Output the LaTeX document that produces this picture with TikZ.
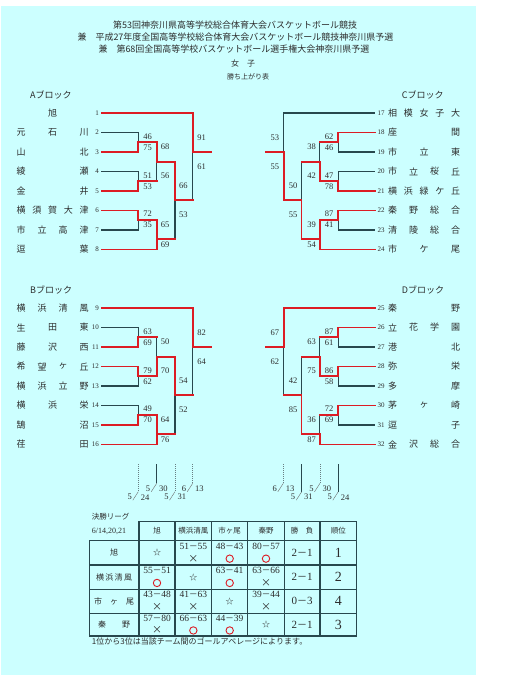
\documentclass[tikz,border=0pt]{standalone}
\usepackage{fontspec}
\setmainfont{Liberation Serif}
\newfontfamily\jp{Noto Sans CJK JP}
\usetikzlibrary{calc}
\definecolor{bg}{RGB}{204,255,255}
\definecolor{win}{RGB}{220,28,36}
\definecolor{lose}{RGB}{40,72,78}
\definecolor{ink}{RGB}{45,45,45}
\tikzset{
  W/.style={draw=win,line width=1.7pt,line cap=rect},
  L/.style={draw=lose,line width=1.1pt,line cap=rect},
  num/.style={font=\fontsize{7}{7}\selectfont,text=ink,inner sep=0pt},
  sc/.style={font=\fontsize{8.5}{8.5}\selectfont,text=ink,inner sep=0pt},
  nm/.style={font=\jp\fontsize{9}{9}\selectfont,text=ink,inner sep=0pt},
  hd/.style={font=\jp\fontsize{9}{9}\selectfont,text=ink,inner sep=0pt},
  dtxt/.style={font=\fontsize{8.5}{8.5}\selectfont,text=ink,inner sep=0pt},
  dsolid/.style={draw=lose,line width=1.1pt},
  ddash/.style={draw=lose!70,line width=0.6pt,dash pattern=on 1.2pt off 0.8pt},
  slashline/.style={draw=ink!70,line width=0.4pt},
  tbl/.style={draw=lose,line width=1.1pt},
  th/.style={font=\jp\fontsize{7.5}{7.5}\selectfont,text=ink,inner sep=0pt},
  rn/.style={font=\jp\fontsize{8}{8}\selectfont,text=ink,inner sep=0pt},
  tsc/.style={font=\fontsize{9.5}{9.5}\selectfont,text=ink,inner sep=0pt},
  mk/.style={font=\jp\fontsize{10}{10}\selectfont,text=ink,inner sep=0pt},
  rk/.style={font=\fontsize{14}{14}\selectfont,text=ink,inner sep=0pt},
  wl/.style={font=\fontsize{11}{11}\selectfont,text=ink,inner sep=0pt},
  star/.style={font=\jp\fontsize{8}{8}\selectfont,text=ink,inner sep=0pt},
}
\def\SX{{147.5,147.5,147.5,147.5,147.5,147.5,165,165,165,165,183.3,183.3,201.7,201.7}}
\def\SY{{24,34.5,63,73.5,100.5,112,33.7,62.7,112,132,73,102,24.3,53.7}}
\newcommand\mkblock[3]{%
\begin{scope}[#2]
\foreach \i in {1,...,8}{\coordinate (#1s\i) at (101.7,{(\i-1)*19.5});}
\foreach \i in {2,...,7}{\coordinate (#1r\i) at (138.3,{(\i-1)*19.5});}
\coordinate (#1a1) at (138.3,29.25);
\coordinate (#1a2) at (138.3,68.25);
\coordinate (#1a3) at (138.3,107.25);
\coordinate (#1bt1) at (156.7,29.25);
\coordinate (#1bb1) at (156.7,68.25);
\coordinate (#1bo1) at (156.7,48.75);
\coordinate (#1bt2) at (156.7,107.25);
\coordinate (#1bb2) at (156.7,136.5);
\coordinate (#1bo2) at (156.7,126);
\coordinate (#1ct) at (175,48.75);
\coordinate (#1cb) at (175,126);
\coordinate (#1co) at (175,87);
\coordinate (#1dt) at (192.7,0);
\coordinate (#1db) at (192.7,87);
\coordinate (#1do) at (192.7,39);
\coordinate (#1e) at (211,39);
\foreach \v [count=\k from 0] in {#3}{%
  \pgfmathsetmacro\xx{\SX[\k]}\pgfmathsetmacro\yy{\SY[\k]}%
  \node[sc] (#1sc\k) at (\xx,\yy) {\v};}
\end{scope}}
\newcommand\segs[3]{\foreach \a/\b in {#3}{\draw[#2] (#1\a) -- (#1\b);}}
\newcommand\tchars[6]{%
 \ifnum#4=1 \node[nm] (t#6-1) at ({(#1+#2)/2},#3) {#5};%
 \else\foreach \c [count=\k from 0] in {#5}{\node[nm] (t#6-\k) at ({#1+\k*(#2-#1)/(#4-1)},#3) {\c};}\fi}
\newcommand\tnameL[4]{%
 \node[num,anchor=east] (n#2) at (99,#1) {#2};
 \tchars{21}{84}{#1}{#3}{#4}{#2}}
\newcommand\tnameR[4]{%
 \node[num,anchor=west] (n#2) at (377.5,#1) {#2};
 \tchars{392.5}{455.5}{#1}{#3}{#4}{#2}}
\newcommand\dmark[6]{%
 \coordinate (dT#6) at (#1,464);
 \coordinate (dB#6) at (#1,#2);
 \draw[#3] (dT#6) -- (dB#6);
 \draw[slashline] (dB#6) -- ++(-5.5,8.5);
 \node[dtxt,anchor=east] (dA#6) at ({#1-6.3},{#2+5.5}) {#4};
 \node[dtxt,anchor=west] (dC#6) at ({#1+2.3},{#2+5.5}) {#5};}
\newcommand\jdash{{\jp\fontsize{8.5}{8.5}\selectfont －}}
\newcommand\cel[6]{%
 \node[tsc] (c#6) at (#1,{#2-6.5}) {#3\jdash#4};
 \ifx o#5\draw[win,line width=0.9pt] (#1,{#2+5.8}) circle[radius=3.7pt];
 \else\node[mk] (m#6) at (#1,{#2+5.8}) {×};\fi}
\begin{document}
\begin{tikzpicture}[x=1pt,y=-1pt]
\useasboundingbox (0,0) rectangle (525,680);
\fill[bg] (1,6) rectangle (476,675);
% header
\node[hd,anchor=west] (h1) at (113,25) {第53回神奈川県高等学校総合体育大会バスケットボール競技};
\node[hd,anchor=west] (h2) at (77.3,37) {兼　平成27年度全国高等学校総合体育大会バスケットボール競技神奈川県予選};
\node[hd,anchor=west] (h3) at (98.3,49) {兼　第68回全国高等学校バスケットボール選手権大会神奈川県予選};
\node[font=\jp\fontsize{8}{8}\selectfont,text=ink,inner sep=0pt] (h4) at (243,63) {女　子};
\node[font=\jp\fontsize{7}{7}\selectfont,text=ink,inner sep=0pt] (h5) at (248,77) {勝ち上がり表};
% block titles
\node[hd,anchor=west] (ta) at (30,95) {Aブロック};
\node[hd,anchor=west] (tb) at (30,290) {Bブロック};
\node[hd,anchor=west] (tc) at (401.7,95) {Cブロック};
\node[hd,anchor=west] (td) at (401.7,290) {Dブロック};
% blocks
\mkblock{A}{shift={(0,113)}}{46,75,51,53,72,35,68,56,65,69,66,53,91,61}
\mkblock{B}{shift={(0,308)}}{63,69,79,62,49,70,50,70,64,76,54,52,82,64}
\mkblock{C}{shift={(476.5,113)},xscale=-1}{62,46,47,78,87,41,38,42,39,54,50,55,53,55}
\mkblock{D}{shift={(476.5,308)},xscale=-1}{87,61,86,58,72,69,63,75,36,87,42,85,67,62}
\segs{A}{L}{s2/r2,s4/r4,s7/r7,r2/a1,r4/a2,r7/a3,bb1/bo1,cb/co,db/do}
\segs{A}{W}{s1/dt,s3/r3,s5/r5,s6/r6,s8/bb2,r3/a1,r5/a2,r6/a3,a1/bt1,a2/bb1,a3/bt2,bt1/bo1,bt2/bo2,bb2/bo2,bo1/ct,bo2/cb,ct/co,co/db,dt/do,do/e}
\segs{B}{L}{s2/r2,s5/r5,s6/r6,r2/a1,r5/a2,r6/a3,bt1/bo1,cb/co,db/do}
\segs{B}{W}{s1/dt,s3/r3,s4/r4,s7/r7,s8/bb2,r3/a1,r4/a2,r7/a3,a1/bt1,a2/bb1,a3/bt2,bb1/bo1,bt2/bo2,bb2/bo2,bo1/ct,bo2/cb,ct/co,co/db,dt/do,do/e}
\segs{C}{L}{s1/dt,s3/r3,s4/r4,s7/r7,r3/a1,r4/a2,r7/a3,bt1/bo1,ct/co,dt/do}
\segs{C}{W}{s2/r2,s5/r5,s6/r6,s8/bb2,r2/a1,r5/a2,r6/a3,a1/bt1,a2/bb1,a3/bt2,bb1/bo1,bt2/bo2,bb2/bo2,bo1/ct,bo2/cb,cb/co,co/db,db/do,do/e}
\segs{D}{L}{s3/r3,s5/r5,s7/r7,r3/a1,r5/a2,r7/a3,bt1/bo1,ct/co,db/do,bt2/bo2}
\segs{D}{W}{s1/dt,s2/r2,s4/r4,s6/r6,s8/bb2,r2/a1,r4/a2,r6/a3,a1/bt1,a2/bb1,a3/bt2,bb1/bo1,bb2/bo2,bo1/ct,bo2/cb,cb/co,co/db,dt/do,do/e}
% team names
\tnameL{113}{1}{1}{旭}
\tnameL{132.5}{2}{3}{元,石,川}
\tnameL{152}{3}{2}{山,北}
\tnameL{171.5}{4}{2}{綾,瀬}
\tnameL{191}{5}{2}{金,井}
\tnameL{210.5}{6}{5}{横,須,賀,大,津}
\tnameL{230}{7}{4}{市,立,高,津}
\tnameL{249.5}{8}{2}{逗,葉}
\tnameL{308}{9}{4}{横,浜,清,風}
\tnameL{327.5}{10}{3}{生,田,東}
\tnameL{347}{11}{3}{藤,沢,西}
\tnameL{366.5}{12}{4}{希,望,ヶ,丘}
\tnameL{386}{13}{4}{横,浜,立,野}
\tnameL{405.5}{14}{3}{横,浜,栄}
\tnameL{425}{15}{2}{鵠,沼}
\tnameL{444.5}{16}{2}{荏,田}
\tnameR{113}{17}{5}{相,模,女,子,大}
\tnameR{132.5}{18}{2}{座,間}
\tnameR{152}{19}{3}{市,立,東}
\tnameR{171.5}{20}{4}{市,立,桜,丘}
\tnameR{191}{21}{5}{横,浜,緑,ケ,丘}
\tnameR{210.5}{22}{4}{秦,野,総,合}
\tnameR{230}{23}{4}{清,陵,総,合}
\tnameR{249.5}{24}{3}{市,ケ,尾}
\tnameR{308}{25}{2}{秦,野}
\tnameR{327.5}{26}{4}{立,花,学,園}
\tnameR{347}{27}{2}{港,北}
\tnameR{366.5}{28}{2}{弥,栄}
\tnameR{386}{29}{2}{多,摩}
\tnameR{405.5}{30}{3}{茅,ヶ,崎}
\tnameR{425}{31}{2}{逗,子}
\tnameR{444.5}{32}{4}{金,沢,総,合}
% dates
\dmark{138.3}{491.7}{ddash}{5}{24}{1}
\dmark{156.7}{483.3}{dsolid}{5}{30}{2}
\dmark{175}{491.7}{ddash}{5}{31}{3}
\dmark{192.7}{483.3}{ddash}{6}{13}{4}
\dmark{283.3}{483.3}{ddash}{6}{13}{5}
\dmark{301.7}{491.7}{dsolid}{5}{31}{6}
\dmark{320}{483.3}{ddash}{5}{30}{7}
\dmark{338.3}{491.7}{dsolid}{5}{24}{8}
% league table
\node[th,anchor=west] (lg) at (91.7,516.7) {決勝リーグ};
\node[font=\fontsize{8}{8}\selectfont,text=ink,inner sep=0pt,anchor=west] (ld) at (91.7,531) {6/14,20,21};
\draw[tbl] (89.3,540.7) rectangle (356.7,636);
\draw[tbl] (139,521.7) rectangle (356.7,540.7);
\foreach \x in {175,211.7,247.7,284.3,320}{\draw[tbl] (\x,521.7) -- (\x,636);}
\draw[tbl] (139,540.7) -- (139,636);
\foreach \y in {565,589.3,613.3}{\draw[tbl] (89.3,\y) -- (356.7,\y);}
\node[th] (k1) at (157,531) {旭};
\node[th] (k2) at (193.35,531) {横浜清風};
\node[th] (k3) at (229.7,531) {市ヶ尾};
\node[th] (k4) at (266,531) {秦野};
\node[th] (k5) at (302.15,531) {勝　負};
\node[th] (k6) at (338.35,531) {順位};
\node[rn] (r1) at (114,552.85) {旭};
\node[rn] (r2) at (114,577.15) {横\,浜\,清\,風};
\node[rn] (r3) at (114,601.3) {市　ヶ　尾};
\node[rn] (r4) at (114,624.65) {秦　　野};
% row 1
\node[star] (s11) at (157,552.85) {☆};
\cel{193.35}{552.85}{51}{55}{x}{12}
\cel{229.7}{552.85}{48}{43}{o}{13}
\cel{266}{552.85}{80}{57}{o}{14}
% row 2
\cel{157}{577.15}{55}{51}{o}{21}
\node[star] (s22) at (193.35,577.15) {☆};
\cel{229.7}{577.15}{63}{41}{o}{23}
\cel{266}{577.15}{63}{66}{x}{24}
% row 3
\cel{157}{601.3}{43}{48}{x}{31}
\cel{193.35}{601.3}{41}{63}{x}{32}
\node[star] (s33) at (229.7,601.3) {☆};
\cel{266}{601.3}{39}{44}{x}{34}
% row 4
\cel{157}{624.65}{57}{80}{x}{41}
\cel{193.35}{624.65}{66}{63}{o}{42}
\cel{229.7}{624.65}{44}{39}{o}{43}
\node[star] (s44) at (266,624.65) {☆};
% results
\foreach \y/\a/\b/\r [count=\q] in {552.85/2/1/1,577.15/2/1/2,601.3/0/3/4,624.65/2/1/3}{
  \node[wl] (w\q) at (302.15,\y) {\a{\jp\fontsize{10}{10}\selectfont －}\b};
  \node[rk] (rk\q) at (338.35,\y) {\r};}
\node[font=\jp\fontsize{8}{8}\selectfont,text=ink,inner sep=0pt,anchor=west] (fn) at (91.7,641.7) {1位から3位は当該チーム間のゴールアベレージによります。};
\end{tikzpicture}
\end{document}
